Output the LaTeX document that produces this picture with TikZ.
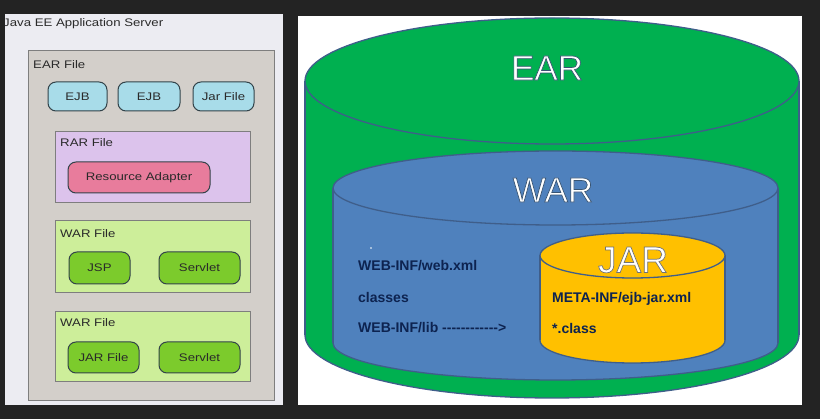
\documentclass[tikz,border=0pt]{standalone}
\usepackage{fontspec}
\setmainfont{Liberation Sans}
\definecolor{bgdark}{HTML}{232323}
\definecolor{panelbg}{HTML}{ECECF2}
\definecolor{earbox}{HTML}{D3CFCA}
\definecolor{boxedge}{HTML}{7E7E7E}
\definecolor{ejbc}{HTML}{A8DCE9}
\definecolor{rarc}{HTML}{DCC3EC}
\definecolor{rac}{HTML}{E87C9C}
\definecolor{warc}{HTML}{CDEE9A}
\definecolor{pillg}{HTML}{7CCB2C}
\definecolor{pilledge}{HTML}{33434A}
\definecolor{gtext}{HTML}{2A2A2A}
\definecolor{earg}{HTML}{00B050}
\definecolor{warb}{HTML}{4F81BD}
\definecolor{jary}{HTML}{FFC000}
\definecolor{cyledge}{HTML}{3F5E8A}
\definecolor{navy}{HTML}{0D2350}
\tikzset{
  ltext/.style={font=\fontsize{11}{13}\selectfont, text=gtext, xscale=1.2, inner sep=0pt},
  pill/.style={draw=pilledge, line width=1pt, rounded corners=8pt, font=\fontsize{11}{13}\selectfont, text=gtext, inner sep=0pt},
  cbox/.style={draw=boxedge, line width=1pt, inner sep=0pt},
  rtext/.style={font=\fontsize{14}{16}\selectfont\bfseries, text=navy, inner sep=0pt, anchor=west},
  bigtext/.style={text=white, inner sep=0pt},
  cyl/.style={draw=cyledge, line width=1.3pt}
}
\newcommand{\hy}{-\kern0pt}
\newcommand{\outl}[2]{\special{pdf:literal direct 2 Tr 0.7 w #1 RG}#2\special{pdf:literal direct 0 Tr}}
\begin{document}
\begin{tikzpicture}[x=1pt,y=-1pt]
\fill[bgdark] (0,0) rectangle (820,419);
\useasboundingbox (0,0) rectangle (820,419);
% ---------- left panel ----------
\fill[panelbg] (5,14) rectangle (283,405);
\begin{scope}
\clip (5,14) rectangle (283,405);
\node[ltext, anchor=west] (srv) at (3,24) {Java EE Application Server};
\end{scope}
\node[cbox, fill=earbox, minimum width=246, minimum height=350] (ear) at (151,226) {};
\node[ltext, anchor=west] (earlbl) at (33,65) {EAR File};
\node[pill, fill=ejbc, minimum width=59, minimum height=29] (ejb1) at (77.5,96.5) {\scalebox{1.2}[1]{EJB}};
\node[pill, fill=ejbc, minimum width=62, minimum height=29] (ejb2) at (149,96.5) {\scalebox{1.2}[1]{EJB}};
\node[pill, fill=ejbc, minimum width=61, minimum height=29] (jarf) at (223.5,96.5) {\scalebox{1.2}[1]{Jar File}};
% RAR
\node[cbox, fill=rarc, minimum width=195, minimum height=71] (rar) at (152.5,167.5) {};
\node[ltext, anchor=west] (rarlbl) at (60,143) {RAR File};
\node[pill, fill=rac, minimum width=142, minimum height=31] (ra) at (139,177.5) {\scalebox{1.2}[1]{Resource Adapter}};
% WAR 1
\node[cbox, fill=warc, minimum width=195, minimum height=72] (war1) at (152.5,257) {};
\node[ltext, anchor=west] (war1lbl) at (60,234) {WAR File};
\node[pill, fill=pillg, minimum width=61, minimum height=32] (jsp) at (99.5,268) {\scalebox{1.2}[1]{JSP}};
\node[pill, fill=pillg, minimum width=81, minimum height=32] (srv1) at (199.5,268) {\scalebox{1.2}[1]{Servlet}};
% WAR 2
\node[cbox, fill=warc, minimum width=195, minimum height=70] (war2) at (152.5,347) {};
\node[ltext, anchor=west] (war2lbl) at (60,323) {WAR File};
\node[pill, fill=pillg, minimum width=71, minimum height=31] (jarfile) at (103.5,357.5) {\scalebox{1.2}[1]{JAR File}};
\node[pill, fill=pillg, minimum width=81, minimum height=31] (srv2) at (199.5,357.5) {\scalebox{1.2}[1]{Servlet}};
% ---------- right panel ----------
\fill[white] (298,16) rectangle (802,405);
% EAR cylinder
\filldraw[cyl, fill=earg] (552,335) ellipse [x radius=247, y radius=63];
\fill[earg] (305,81) rectangle (799,335);
\draw[cyl] (305,81) -- (305,335);
\draw[cyl] (799,81) -- (799,335);
\filldraw[cyl, fill=earg] (552,81) ellipse [x radius=247, y radius=63];
% WAR cylinder
\filldraw[cyl, fill=warb] (555.5,343) ellipse [x radius=222.5, y radius=37];
\fill[warb] (333,188) rectangle (778,343);
\draw[cyl] (333,188) -- (333,343);
\draw[cyl] (778,188) -- (778,343);
\filldraw[cyl, fill=warb] (555.5,188) ellipse [x radius=222.5, y radius=37];
% JAR cylinder
\filldraw[cyl, fill=jary] (632.5,340.5) ellipse [x radius=92.5, y radius=22.5];
\fill[jary] (540,255.5) rectangle (725,340.5);
\draw[cyl] (540,255.5) -- (540,340.5);
\draw[cyl] (725,255.5) -- (725,340.5);
\filldraw[cyl, fill=jary] (632.5,255.5) ellipse [x radius=92.5, y radius=22.5];
% titles
\node[bigtext, font=\fontsize{35}{40}\selectfont] (eart) at (547,68) {\outl{0.22 0.33 0.45}{EAR}};
\node[bigtext, font=\fontsize{35}{40}\selectfont] (wart) at (553,190) {\outl{0.22 0.33 0.45}{WAR}};
\node[bigtext, font=\fontsize{37}{42}\selectfont] (jart) at (633,260) {\outl{0.45 0.45 0.45}{JAR}};
% texts
\fill[white] (371,248) circle (0.9);
\node[rtext] (webxml) at (358,266) {WEB-INF/web.xml};
\node[rtext] (classes) at (358,297) {classes};
\node[rtext] (weblib) at (358,328) {WEB-INF/lib \hy\hy\hy\hy\hy\hy\hy\hy\hy\hy\hy\hy{}>};
\node[rtext] (meta) at (552,299) {META-INF/ejb-jar.xml};
\node[rtext] (cls) at (552,328) {*.class};
\end{tikzpicture}
\end{document}
